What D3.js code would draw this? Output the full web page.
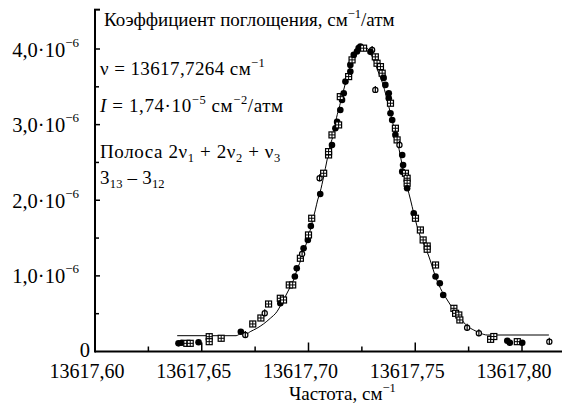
<!DOCTYPE html>
<html><head><meta charset="utf-8">
<script src="https://cdn.jsdelivr.net/npm/d3@7"></script>
</head>
<body style="margin:0;background:#fff">
<svg id="chart" width="562" height="405" style="display:block"></svg>
<script>
// ---- data ----
const xTicksMajor = [13617.60, 13617.65, 13617.70, 13617.75, 13617.80];
const xTicksMinor = [13617.625, 13617.675, 13617.725, 13617.775];
const yTicksMajor = [0, 1, 2, 3, 4];          // units of 1e-6
const yTicksMinor = [0.5, 1.5, 2.5, 3.5];
const yTickLabels = ["0", "1,0·10", "2,0·10", "3,0·10", "4,0·10"];

// fitted curve (frequency, cm-1 ; absorption, 1e-6 cm-1/atm)
const curveFreq = [13617.6385,13617.6661,13617.6685,13617.6708,13617.6727,13617.6758,13617.6789,13617.6821,13617.6852,13617.6868,13617.6883,13617.6907,13617.6930,13617.6946,13617.6970,13617.6985,13617.7000,13617.7016,13617.7032,13617.7043,13617.7055,13617.7071,13617.7087,13617.7102,13617.7118,13617.7126,13617.7149,13617.7173,13617.7196,13617.7220,13617.7243,13617.7258,13617.7282,13617.7305,13617.7329,13617.7352,13617.7368,13617.7384,13617.7399,13617.7415,13617.7434,13617.7446,13617.7462,13617.7478,13617.7493,13617.7509,13617.7524,13617.7548,13617.7563,13617.7571,13617.7595,13617.7618,13617.7650,13617.7681,13617.7712,13617.7743,13617.7774,13617.7806,13617.7837,13617.8126];
const curveAbs  = [0.209,0.209,0.238,0.231,0.262,0.307,0.364,0.439,0.526,0.602,0.681,0.813,0.946,1.078,1.254,1.386,1.519,1.696,1.872,2.004,2.114,2.312,2.533,2.731,2.886,3.019,3.283,3.548,3.767,3.922,4.024,4.041,3.988,3.856,3.680,3.503,3.327,3.151,2.974,2.798,2.533,2.357,2.180,2.004,1.828,1.651,1.519,1.369,1.263,1.197,0.989,0.836,0.681,0.549,0.439,0.337,0.284,0.241,0.218,0.218];

// measured points
const ptFreq = [13617.6391,13617.6407,13617.6430,13617.6446,13617.6485,13617.6535,13617.6535,13617.6591,13617.6683,13617.6704,13617.6739,13617.6777,13617.6795,13617.6813,13617.6868,13617.6868,13617.6883,13617.6910,13617.6926,13617.6936,13617.6945,13617.6962,13617.6970,13617.6977,13617.6997,13617.7000,13617.7011,13617.7015,13617.7055,13617.7052,13617.7071,13617.7094,13617.7094,13617.7110,13617.7110,13617.7126,13617.7134,13617.7141,13617.7149,13617.7157,13617.7149,13617.7165,13617.7173,13617.7188,13617.7196,13617.7196,13617.7204,13617.7212,13617.7227,13617.7235,13617.7243,13617.7258,13617.7298,13617.7290,13617.7313,13617.7321,13617.7337,13617.7345,13617.7352,13617.7313,13617.7360,13617.7376,13617.7376,13617.7384,13617.7384,13617.7392,13617.7407,13617.7407,13617.7415,13617.7426,13617.7439,13617.7443,13617.7439,13617.7454,13617.7462,13617.7462,13617.7462,13617.7493,13617.7501,13617.7524,13617.7537,13617.7556,13617.7556,13617.7595,13617.7595,13617.7615,13617.7631,13617.7681,13617.7689,13617.7704,13617.7709,13617.7743,13617.7798,13617.7853,13617.7868,13617.7931,13617.7943,13617.7978,13617.8001,13617.8128];
const ptAbs = [0.108,0.116,0.108,0.108,0.122,0.196,0.130,0.175,0.262,0.218,0.364,0.443,0.505,0.628,0.704,0.638,0.681,0.880,0.880,0.992,1.101,1.233,1.290,1.365,1.475,1.541,1.660,1.762,2.083,2.291,2.357,2.599,2.643,2.731,2.864,2.952,3.036,2.996,3.194,3.327,3.370,3.415,3.569,3.635,3.701,3.790,3.856,3.922,3.966,4.011,4.032,4.011,3.988,3.962,3.896,3.812,3.767,3.680,3.618,3.459,3.525,3.415,3.349,3.283,3.151,3.062,2.952,2.864,2.798,2.731,2.599,2.467,2.378,2.357,2.291,2.225,2.159,1.828,1.762,1.607,1.475,1.395,1.352,1.144,0.992,0.902,0.747,0.571,0.505,0.483,0.417,0.315,0.241,0.161,0.198,0.143,0.116,0.130,0.116,0.130];
const ptType = ["c","c","s","s","c","s","s","s","c","t","s","s","t","s","s","c","s","s","s","c","c","s","t","c","c","s","c","s","c","t","s","s","s","c","s","c","c","s","c","c","s","c","c","s","c","c","s","c","c","c","c","s","t","c","s","s","s","s","c","t","c","c","c","s","c","c","s","c","s","t","c","c","c","s","s","s","c","c","s","s","s","s","s","s","c","c","c","s","s","s","s","t","t","s","s","c","c","s","c","t"];

// ---- drawing ----
const FONT = "Liberation Serif";
const svg = d3.select("#chart");
const x = d3.scaleLinear().domain([13617.60, 13617.80]).range([95, 522]);
const y = d3.scaleLinear().domain([0, 4]).range([351.5, 49]);
const xEnd = 13617.819, yTop = 4.52;
const fmtX = v => d3.format(".2f")(v).replace(".", ",");

function txt(parent, size) {
  return parent.append("text").style("font-family", FONT).attr("font-size", size);
}

const g = svg.append("g");

// axes lines
g.append("line").attr("x1", x(13617.60)).attr("x2", x(xEnd)).attr("y1", y(0)).attr("y2", y(0))
  .attr("stroke", "#000").attr("stroke-width", 2);
g.append("line").attr("x1", x(13617.60)).attr("x2", x(13617.60)).attr("y1", y(0) + 1).attr("y2", y(yTop))
  .attr("stroke", "#000").attr("stroke-width", 2);
g.append("line").attr("x1", x(13617.60) - 1).attr("x2", x(13617.60) + 5).attr("y1", y(yTop)).attr("y2", y(yTop))
  .attr("stroke", "#000").attr("stroke-width", 2);

// x ticks (inward)
xTicksMajor.slice(1).forEach(d => g.append("line")
  .attr("x1", x(d)).attr("x2", x(d)).attr("y1", y(0)).attr("y2", y(0) - 9)
  .attr("stroke", "#000").attr("stroke-width", 1.5));
xTicksMinor.forEach(d => g.append("line")
  .attr("x1", x(d)).attr("x2", x(d)).attr("y1", y(0)).attr("y2", y(0) - 5)
  .attr("stroke", "#000").attr("stroke-width", 1.5));
xTicksMajor.forEach(d => txt(g, 20)
  .attr("x", x(d) - 8).attr("y", 378).attr("text-anchor", "middle").text(fmtX(d)));

// y ticks (inward)
yTicksMajor.slice(1).forEach(d => g.append("line")
  .attr("x1", x(13617.60)).attr("x2", x(13617.60) + 5).attr("y1", y(d)).attr("y2", y(d))
  .attr("stroke", "#000").attr("stroke-width", 1.5));
yTicksMinor.forEach(d => g.append("line")
  .attr("x1", x(13617.60)).attr("x2", x(13617.60) + 4).attr("y1", y(d)).attr("y2", y(d))
  .attr("stroke", "#000").attr("stroke-width", 1.5));
yTicksMajor.forEach((v, i) => {
  const t = txt(g, 20.5).attr("text-anchor", "end");
  if (v === 0) {
    t.attr("x", 90).attr("y", y(v) + 5).text(yTickLabels[i]);
  } else {
    t.attr("x", 79).attr("y", y(v) + 7.5);
    t.append("tspan").text(yTickLabels[i]);
    t.append("tspan").attr("font-size", 13).attr("dy", -10).text("−6");
  }
});

// annotation texts
const FS = 19, SS = 12.5, LS = 0.6;
let t;
t = txt(svg, FS).attr("x", 104).attr("y", 25.5);
t.append("tspan").text("Коэффициент поглощения, см");
t.append("tspan").attr("font-size", SS).attr("dy", -8).text("−1");
t.append("tspan").attr("dy", 8).text("/атм");

t = txt(svg, FS).attr("x", 100).attr("y", 75).attr("letter-spacing", 0.4);
t.append("tspan").text("ν = 13617,7264 см");
t.append("tspan").attr("font-size", SS).attr("dy", -8).text("−1");

t = txt(svg, FS).attr("x", 100).attr("y", 111.5).attr("letter-spacing", LS);
t.append("tspan").attr("font-style", "italic").text("I");
t.append("tspan").text(" = 1,74·10");
t.append("tspan").attr("font-size", SS).attr("dy", -8).text("−5");
t.append("tspan").attr("dy", 8).text(" см");
t.append("tspan").attr("font-size", SS).attr("dy", -8).text("−2");
t.append("tspan").attr("dy", 8).text("/атм");

t = txt(svg, FS).attr("x", 100).attr("y", 158).attr("letter-spacing", LS);
t.append("tspan").text("Полоса 2ν");
t.append("tspan").attr("font-size", SS).attr("dy", 4).text("1");
t.append("tspan").attr("dy", -4).text(" + 2ν");
t.append("tspan").attr("font-size", SS).attr("dy", 4).text("2");
t.append("tspan").attr("dy", -4).text(" + ν");
t.append("tspan").attr("font-size", SS).attr("dy", 4).text("3");

t = txt(svg, FS).attr("x", 100).attr("y", 183.5).attr("letter-spacing", 0.2);
t.append("tspan").text("3");
t.append("tspan").attr("font-size", SS).attr("dy", 4).text("13");
t.append("tspan").attr("dy", -4).text(" – 3");
t.append("tspan").attr("font-size", SS).attr("dy", 4).text("12");

// x axis title
t = txt(svg, FS).attr("x", 289).attr("y", 400);
t.append("tspan").text("Частота, см");
t.append("tspan").attr("font-size", SS).attr("dy", -8).text("−1");

// curve
const line = d3.line().x(d => x(d[0])).y(d => y(d[1])).curve(d3.curveMonotoneX);
svg.append("path").datum(curveFreq.map((f, i) => [f, curveAbs[i]]))
  .attr("d", line).attr("fill", "none").attr("stroke", "#000").attr("stroke-width", 1);

// points
const pg = svg.append("g");
ptFreq.forEach((f, i) => {
  const cx = x(f), cy = y(ptAbs[i]), tp = ptType[i];
  if (tp === "c") {
    pg.append("circle").attr("cx", cx).attr("cy", cy).attr("r", 3.3).attr("fill", "#000");
  } else if (tp === "s") {
    pg.append("rect").attr("x", cx - 3).attr("y", cy - 3).attr("width", 6).attr("height", 6)
      .attr("fill", "#fff").attr("stroke", "#000").attr("stroke-width", 1.2);
    pg.append("path").attr("d", `M${cx - 3},${cy}H${cx + 3}M${cx},${cy - 3}V${cy + 3}`)
      .attr("stroke", "#000").attr("stroke-width", 1);
  } else {
    pg.append("circle").attr("cx", cx).attr("cy", cy).attr("r", 2.6)
      .attr("fill", "#fff").attr("stroke", "#000").attr("stroke-width", 1.2);
    pg.append("path").attr("d", `M${cx},${cy - 4}V${cy + 3}`).attr("stroke", "#000").attr("stroke-width", 1.2);
  }
});
</script>
</body></html>
